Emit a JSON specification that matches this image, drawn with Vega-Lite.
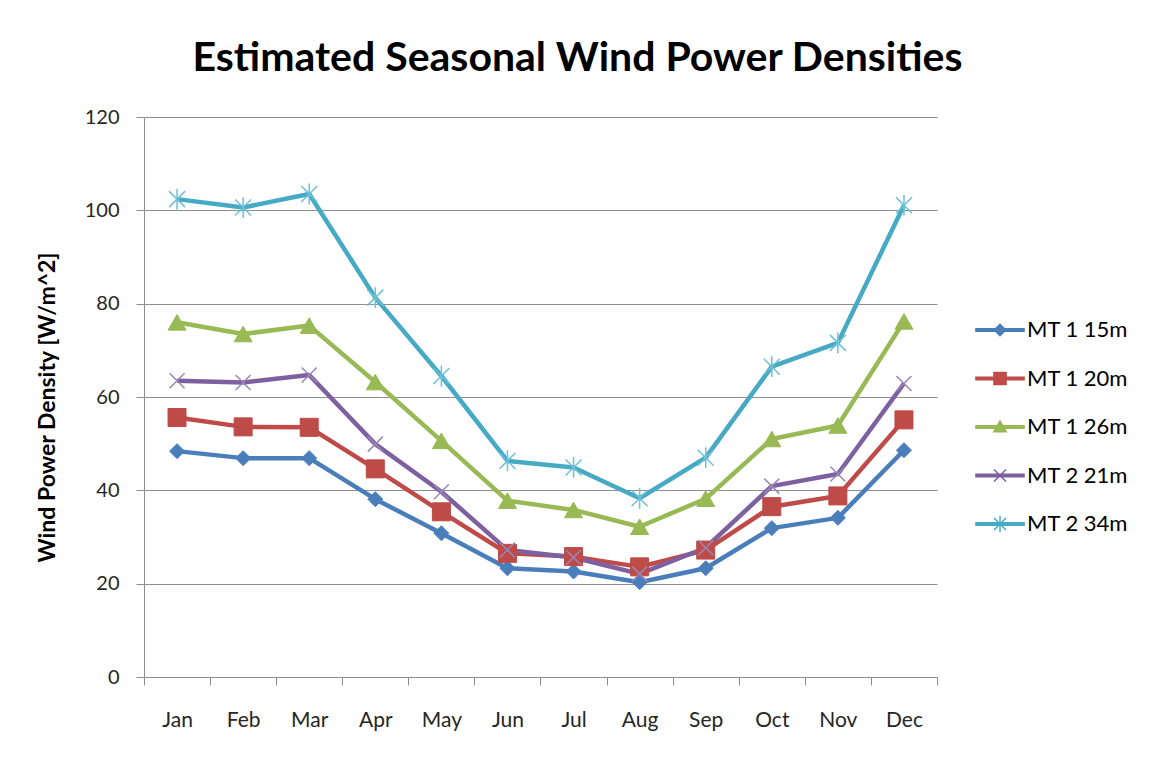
{
  "$schema": "https://vega.github.io/schema/vega-lite/v6.json",
  "width": 793,
  "height": 560,
  "autosize": {"type": "none"},
  "padding": {"left": 144, "top": 117, "right": 212, "bottom": 85},
  "background": "white",
  "config": {"font": "Lato", "view": {"stroke": null}},
  "title": {
    "text": "Estimated Seasonal Wind Power Densities",
    "font": "Lato",
    "fontSize": 41,
    "fontWeight": "bold",
    "color": "#000000",
    "anchor": "middle",
    "dx": 37,
    "baseline": "alphabetic",
    "offset": -5
  },
  "data": {
    "values": [
      {"month": "Jan", "series": "MT 1 15m", "value": 48.4},
      {"month": "Feb", "series": "MT 1 15m", "value": 46.9},
      {"month": "Mar", "series": "MT 1 15m", "value": 46.9},
      {"month": "Apr", "series": "MT 1 15m", "value": 38.1},
      {"month": "May", "series": "MT 1 15m", "value": 30.8},
      {"month": "Jun", "series": "MT 1 15m", "value": 23.3},
      {"month": "Jul", "series": "MT 1 15m", "value": 22.6},
      {"month": "Aug", "series": "MT 1 15m", "value": 20.3},
      {"month": "Sep", "series": "MT 1 15m", "value": 23.3},
      {"month": "Oct", "series": "MT 1 15m", "value": 31.9},
      {"month": "Nov", "series": "MT 1 15m", "value": 34.1},
      {"month": "Dec", "series": "MT 1 15m", "value": 48.6},
      {"month": "Jan", "series": "MT 1 20m", "value": 55.6},
      {"month": "Feb", "series": "MT 1 20m", "value": 53.6},
      {"month": "Mar", "series": "MT 1 20m", "value": 53.5},
      {"month": "Apr", "series": "MT 1 20m", "value": 44.6},
      {"month": "May", "series": "MT 1 20m", "value": 35.4},
      {"month": "Jun", "series": "MT 1 20m", "value": 26.5},
      {"month": "Jul", "series": "MT 1 20m", "value": 25.8},
      {"month": "Aug", "series": "MT 1 20m", "value": 23.6},
      {"month": "Sep", "series": "MT 1 20m", "value": 27.2},
      {"month": "Oct", "series": "MT 1 20m", "value": 36.5},
      {"month": "Nov", "series": "MT 1 20m", "value": 38.8},
      {"month": "Dec", "series": "MT 1 20m", "value": 55.1},
      {"month": "Jan", "series": "MT 1 26m", "value": 76.0},
      {"month": "Feb", "series": "MT 1 26m", "value": 73.5},
      {"month": "Mar", "series": "MT 1 26m", "value": 75.3},
      {"month": "Apr", "series": "MT 1 26m", "value": 63.2},
      {"month": "May", "series": "MT 1 26m", "value": 50.6},
      {"month": "Jun", "series": "MT 1 26m", "value": 37.8},
      {"month": "Jul", "series": "MT 1 26m", "value": 35.8},
      {"month": "Aug", "series": "MT 1 26m", "value": 32.2},
      {"month": "Sep", "series": "MT 1 26m", "value": 38.2},
      {"month": "Oct", "series": "MT 1 26m", "value": 51.0},
      {"month": "Nov", "series": "MT 1 26m", "value": 53.9},
      {"month": "Dec", "series": "MT 1 26m", "value": 76.2},
      {"month": "Jan", "series": "MT 2 21m", "value": 63.5},
      {"month": "Feb", "series": "MT 2 21m", "value": 63.1},
      {"month": "Mar", "series": "MT 2 21m", "value": 64.7},
      {"month": "Apr", "series": "MT 2 21m", "value": 49.9},
      {"month": "May", "series": "MT 2 21m", "value": 39.7},
      {"month": "Jun", "series": "MT 2 21m", "value": 27.2},
      {"month": "Jul", "series": "MT 2 21m", "value": 25.6},
      {"month": "Aug", "series": "MT 2 21m", "value": 22.1},
      {"month": "Sep", "series": "MT 2 21m", "value": 27.7},
      {"month": "Oct", "series": "MT 2 21m", "value": 40.9},
      {"month": "Nov", "series": "MT 2 21m", "value": 43.5},
      {"month": "Dec", "series": "MT 2 21m", "value": 62.9},
      {"month": "Jan", "series": "MT 2 34m", "value": 102.4},
      {"month": "Feb", "series": "MT 2 34m", "value": 100.6},
      {"month": "Mar", "series": "MT 2 34m", "value": 103.5},
      {"month": "Apr", "series": "MT 2 34m", "value": 81.3},
      {"month": "May", "series": "MT 2 34m", "value": 64.5},
      {"month": "Jun", "series": "MT 2 34m", "value": 46.3},
      {"month": "Jul", "series": "MT 2 34m", "value": 44.9},
      {"month": "Aug", "series": "MT 2 34m", "value": 38.3},
      {"month": "Sep", "series": "MT 2 34m", "value": 47.0},
      {"month": "Oct", "series": "MT 2 34m", "value": 66.5},
      {"month": "Nov", "series": "MT 2 34m", "value": 71.6},
      {"month": "Dec", "series": "MT 2 34m", "value": 101.1}
    ]
  },
  "encoding": {
    "x": {
      "field": "month",
      "type": "ordinal",
      "sort": ["Jan", "Feb", "Mar", "Apr", "May", "Jun", "Jul", "Aug", "Sep", "Oct", "Nov", "Dec"],
      "scale": {"type": "band", "paddingInner": 0, "paddingOuter": 0},
      "axis": {
        "title": null,
        "labelAngle": 0,
        "labelFont": "Lato",
        "labelFontSize": 21,
        "labelColor": "#262626",
        "labelPadding": 24,
        "tickBand": "extent",
        "tickSize": 8,
        "tickColor": "#8e8e8e",
        "domainColor": "#8e8e8e",
        "grid": false
      }
    },
    "y": {
      "field": "value",
      "type": "quantitative",
      "scale": {"domain": [0, 120], "nice": false, "zero": true},
      "axis": {
        "values": [0, 20, 40, 60, 80, 100, 120],
        "title": "Wind Power Density [W/m^2]",
        "titleFont": "Lato",
        "titleFontSize": 23,
        "titleFontWeight": "bold",
        "titleColor": "#000000",
        "titleAngle": 270,
        "titleAlign": "center",
        "titleBaseline": "middle",
        "titleX": -97,
        "titleY": 290,
        "labelFont": "Lato",
        "labelFontSize": 20,
        "labelColor": "#262626",
        "labelPadding": 17,
        "tickSize": 8,
        "tickColor": "#8e8e8e",
        "domainColor": "#8e8e8e",
        "gridColor": "#8e8e8e",
        "gridWidth": 1
      }
    },
    "color": {
      "field": "series",
      "type": "nominal",
      "scale": {
        "domain": ["MT 1 15m", "MT 1 20m", "MT 1 26m", "MT 2 21m", "MT 2 34m"],
        "range": ["#4a7ebb", "#be4b48", "#98b954", "#7d60a0", "#46aac5"]
      },
      "legend": {
        "title": null,
        "orient": "none",
        "legendX": 845,
        "legendY": 202,
        "padding": 0,
        "labelFont": "Lato",
        "labelFontSize": 22,
        "labelColor": "#000000",
        "labelOffset": 16,
        "rowPadding": 26.5,
        "symbolSize": 256,
        "symbolStrokeWidth": 0
      }
    }
  },
  "layer": [
    {
      "mark": {"type": "line", "strokeWidth": 4.5, "strokeJoin": "round"}
    },
    {
      "transform": [{"filter": "datum.value < 0"}],
      "mark": {"type": "point", "filled": true, "opacity": 1},
      "encoding": {
        "shape": {
          "field": "series",
          "type": "nominal",
          "scale": {
            "domain": ["MT 1 15m", "MT 1 20m", "MT 1 26m", "MT 2 21m", "MT 2 34m"],
            "range": [
              "M-3.1,-0.26H3.1V0.26H-3.1ZM0,-0.85L0.85,0L0,0.85L-0.85,0Z",
              "M-3.1,-0.26H3.1V0.26H-3.1ZM-0.85,-0.85H0.85V0.85H-0.85Z",
              "M-3.1,-0.26H3.1V0.26H-3.1ZM0,-0.95L0.95,0.7H-0.95Z",
              "M-3.1,-0.26H3.1V0.26H-3.1ZM-0.686,-0.814L0.814,0.686L0.686,0.814L-0.814,-0.686ZM-0.814,0.686L0.686,-0.814L0.814,-0.686L-0.686,0.814Z",
              "M-3.1,-0.26H3.1V0.26H-3.1ZM-0.686,-0.814L0.814,0.686L0.686,0.814L-0.814,-0.686ZM-0.814,0.686L0.686,-0.814L0.814,-0.686L-0.686,0.814ZM-0.09,-1H0.09V1H-0.09Z"
            ]
          }
        }
      }
    },
    {
      "transform": [{"filter": "datum.series === 'MT 1 15m'"}],
      "mark": {"type": "point", "filled": true, "shape": "diamond", "size": 225, "stroke": "#4a7ebb", "strokeWidth": 1, "opacity": 1}
    },
    {
      "transform": [{"filter": "datum.series === 'MT 1 20m'"}],
      "mark": {"type": "point", "filled": true, "shape": "square", "size": 324, "stroke": "#be4b48", "strokeWidth": 1, "opacity": 1}
    },
    {
      "transform": [{"filter": "datum.series === 'MT 1 26m'"}],
      "mark": {"type": "point", "filled": true, "shape": "triangle-up", "size": 324, "stroke": "#98b954", "strokeWidth": 1, "opacity": 1}
    },
    {
      "transform": [{"filter": "datum.series === 'MT 2 21m'"}],
      "mark": {"type": "point", "filled": true, "shape": "M-1,-1L1,1M-1,1L1,-1", "size": 225, "stroke": "#9b86b8", "strokeWidth": 1.5, "opacity": 1}
    },
    {
      "transform": [{"filter": "datum.series === 'MT 2 34m'"}],
      "mark": {"type": "point", "filled": true, "shape": "M-1,-1L1,1M-1,1L1,-1M0,-1.3V1.3", "size": 256, "stroke": "#6cc0d8", "strokeWidth": 1.5, "opacity": 1}
    }
  ]
}
